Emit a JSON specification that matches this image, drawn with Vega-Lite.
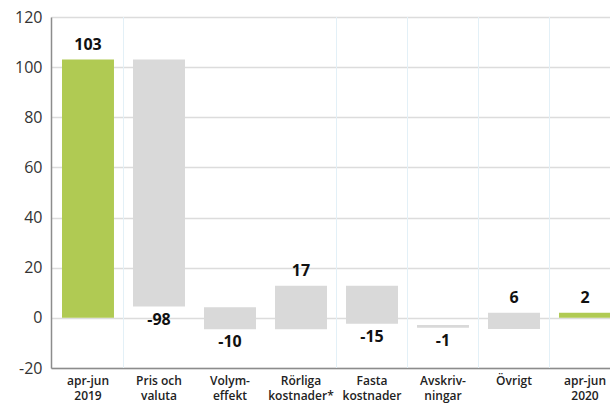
{
  "$schema": "https://vega.github.io/schema/vega-lite/v6.json",
  "width": 559,
  "height": 351,
  "autosize": {"type": "none"},
  "padding": {"left": 51, "top": 17, "right": 0, "bottom": 35},
  "background": "white",
  "config": {
    "view": {"stroke": null},
    "font": "Open Sans"
  },
  "data": {
    "values": [
      {"cat": "apr-jun|2019", "low": 0, "high": 103, "delta": 103, "kind": "total"},
      {"cat": "Pris och|valuta", "low": 4.5, "high": 103, "delta": -98, "kind": "step"},
      {"cat": "Volym-|effekt", "low": -4.5, "high": 4.2, "delta": -10, "kind": "step"},
      {"cat": "Rörliga|kostnader*", "low": -4.5, "high": 12.8, "delta": 17, "kind": "step"},
      {"cat": "Fasta|kostnader", "low": -2.4, "high": 12.8, "delta": -15, "kind": "step"},
      {"cat": "Avskriv-|ningar", "low": -3.9, "high": -2.8, "delta": -1, "kind": "step"},
      {"cat": "Övrigt", "low": -4.4, "high": 2, "delta": 6, "kind": "step"},
      {"cat": "apr-jun|2020", "low": 0, "high": 2, "delta": 2, "kind": "total"}
    ]
  },
  "encoding": {
    "x": {
      "field": "cat",
      "type": "nominal",
      "sort": ["apr-jun|2019", "Pris och|valuta", "Volym-|effekt", "Rörliga|kostnader*", "Fasta|kostnader", "Avskriv-|ningar", "Övrigt", "apr-jun|2020"],
      "scale": {"range": [0, 571], "paddingInner": 0.268, "paddingOuter": 0.155},
      "axis": {
        "title": null,
        "labelAngle": 0,
        "labelExpr": "split(datum.label, '|')",
        "labelFontSize": 12,
        "labelFontWeight": 600,
        "labelColor": "#222222",
        "labelLineHeight": 15,
        "labelPadding": 7,
        "ticks": false,
        "grid": false,
        "domainColor": "#8c8c8c",
        "domainWidth": 1.5
      }
    }
  },
  "layer": [
    {
      "transform": [{"filter": {"field": "cat", "oneOf": ["apr-jun|2019", "Rörliga|kostnader*", "Fasta|kostnader", "Avskriv-|ningar", "Övrigt"]}}],
      "mark": {"type": "rule", "color": "#e3f0f7", "strokeWidth": 1},
      "encoding": {
        "x": {"field": "cat", "type": "nominal", "sort": ["apr-jun|2019", "Pris och|valuta", "Volym-|effekt", "Rörliga|kostnader*", "Fasta|kostnader", "Avskriv-|ningar", "Övrigt", "apr-jun|2020"], "bandPosition": 1.183}
      }
    },
    {
      "mark": {"type": "bar"},
      "encoding": {
        "y": {
          "field": "low",
          "type": "quantitative",
          "scale": {"domain": [-20, 120], "nice": false},
          "axis": {
            "title": null,
            "values": [-20, 0, 20, 40, 60, 80, 100, 120],
            "labelExpr": "datum.value + ''",
            "labelFontSize": 16,
            "labelColor": "#333333",
            "labelPadding": 9,
            "ticks": false,
            "gridColor": "#dcdcdc",
            "gridWidth": 1.5,
            "domainColor": "#8c8c8c",
            "domainWidth": 1.5
          }
        },
        "y2": {"field": "high"},
        "color": {
          "field": "kind",
          "type": "nominal",
          "scale": {"domain": ["total", "step"], "range": ["#b0ca53", "#d9d9d9"]},
          "legend": null
        }
      }
    },
    {
      "transform": [{"filter": "datum.delta > 0"}],
      "mark": {"type": "text", "fontSize": 16, "fontWeight": "bold", "color": "#111111", "baseline": "middle", "dy": -15},
      "encoding": {
        "y": {"field": "high", "type": "quantitative"},
        "text": {"field": "delta", "type": "nominal"}
      }
    },
    {
      "transform": [{"filter": "datum.delta < 0"}],
      "mark": {"type": "text", "fontSize": 16, "fontWeight": "bold", "color": "#111111", "baseline": "middle", "dy": 13},
      "encoding": {
        "y": {"field": "low", "type": "quantitative"},
        "text": {"field": "delta", "type": "nominal"}
      }
    }
  ]
}
